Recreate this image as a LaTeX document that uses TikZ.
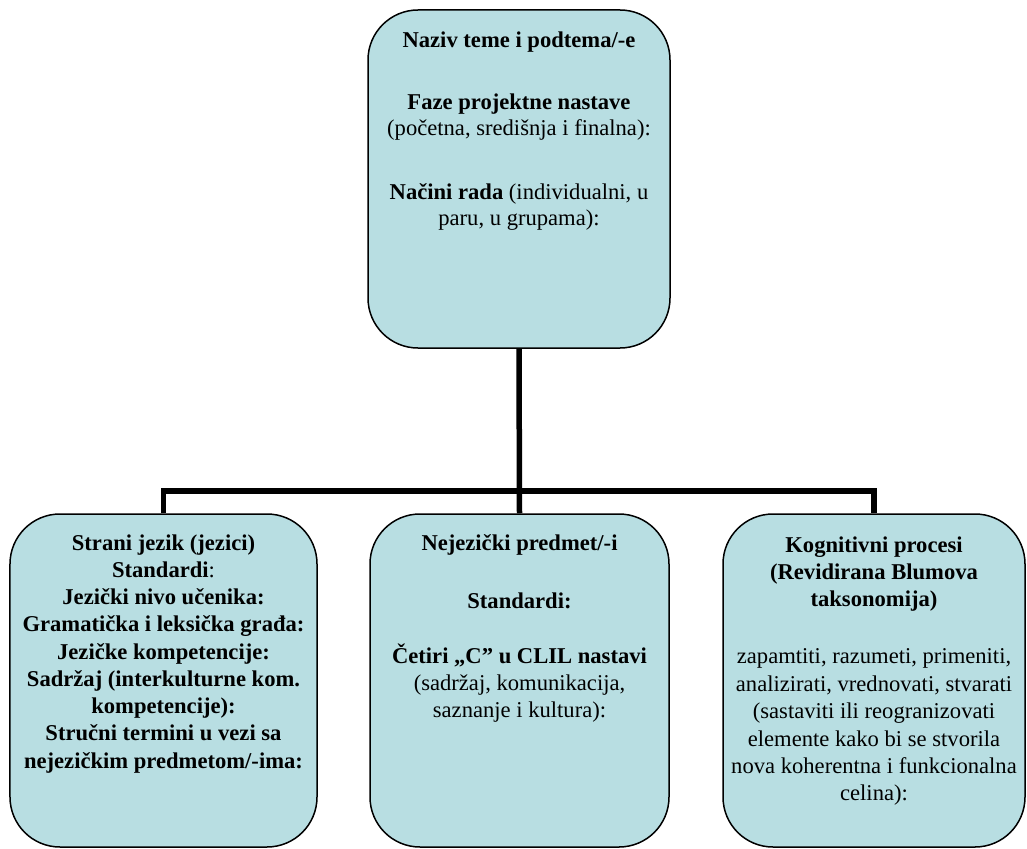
\documentclass[tikz,border=0pt]{standalone}
\usepackage{fontspec}
\setmainfont{Liberation Serif}
\definecolor{boxblue}{RGB}{184,222,226}
\newcommand\linesize{\fontsize{22.6bp}{27bp}\selectfont}
\tikzset{
  box/.style={draw=black, line width=1.5bp, fill=boxblue, rounded corners=50bp, inner sep=0pt},
  conn/.style={draw=black, line width=5.5bp, line join=miter},
  txt/.style={anchor=base, inner sep=0pt, font=\linesize}
}
\begin{document}
\begin{tikzpicture}[x=1bp,y=-1bp]
\useasboundingbox (0,0) rectangle (1027,849);
% boxes
\node[box, minimum width=302bp, minimum height=338bp] (top) at (519,179) {};
\node[box, minimum width=307bp, minimum height=333bp] (left) at (163.5,680.5) {};
\node[box, minimum width=299bp, minimum height=333bp] (mid) at (519.5,680.5) {};
\node[box, minimum width=302bp, minimum height=333bp] (right) at (874,680.5) {};
% connectors
\coordinate (bus) at (0,491);
\draw[conn] (top.south) -- (mid.north);
\draw[conn] (left.north) -- (left.north |- bus) -- (right.north |- bus) -- (right.north);
% top box text
\node[txt] (ta) at (519,47) {\textbf{Naziv teme i podtema/-e}};
\node[txt] (tb) at (519,109) {\textbf{Faze projektne nastave}};
\node[txt] (tc) at (519,135) {(početna, središnja i finalna):};
\node[txt] (td) at (519,199) {\textbf{Načini rada} (individualni, u};
\node[txt] (te) at (519,225) {paru, u grupama):};
% left box text
\node[txt] (la) at (163.5,550) {\textbf{Strani jezik (jezici)}};
\node[txt] (lb) at (163.5,577.25) {\textbf{Standardi}:};
\node[txt] (lc) at (163.5,604.5) {\textbf{Jezički nivo učenika:}};
\node[txt] (ld) at (163.5,631.75) {\textbf{Gramatička i leksička građa:}};
\node[txt] (le) at (163.5,659) {\textbf{Jezičke kompetencije:}};
\node[txt] (lf) at (163.5,686.25) {\textbf{Sadržaj (interkulturne kom.}};
\node[txt] (lg) at (163.5,713.5) {\textbf{kompetencije):}};
\node[txt] (lh) at (163.5,740.75) {\textbf{Stručni termini u vezi sa}};
\node[txt] (li) at (163.5,768) {\textbf{nejezičkim predmetom/-ima:}};
% middle box text
\node[txt] (ma) at (519.5,550) {\textbf{Nejezički predmet/-i}};
\node[txt] (mb) at (519.5,608) {\textbf{Standardi:}};
\node[txt] (mc) at (519.5,663) {\textbf{Četiri „C” u CLIL nastavi}};
\node[txt] (md) at (519.5,690) {(sadržaj, komunikacija,};
\node[txt] (me) at (519.5,717) {saznanje i kultura):};
% right box text
\node[txt] (ra) at (874,552) {\textbf{Kognitivni procesi}};
\node[txt] (rb) at (874,579) {\textbf{(Revidirana Blumova}};
\node[txt] (rc) at (874,606) {\textbf{taksonomija)}};
\node[txt] (rd) at (874,663) {zapamtiti, razumeti, primeniti,};
\node[txt] (re) at (874,691) {analizirati, vrednovati, stvarati};
\node[txt] (rf) at (874,718) {(sastaviti ili reogranizovati};
\node[txt] (rg) at (874,746) {elemente kako bi se stvorila};
\node[txt] (rh) at (874,773) {nova koherentna i funkcionalna};
\node[txt] (ri) at (874,800) {celina):};
\end{tikzpicture}
\end{document}
